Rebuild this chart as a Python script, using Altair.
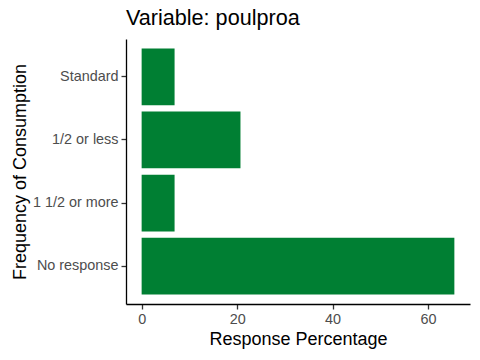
import altair as alt
import pandas as pd

categories = ["Standard", "1/2 or less", "1 1/2 or more", "No response"]
percentages = [6.9, 20.7, 6.9, 65.5]
x_ticks = [0, 20, 40, 60]

df = pd.DataFrame({"category": categories, "pct": percentages})

lo = -0.05 * max(percentages)
hi = max(percentages) * 1.05

chart = (
    alt.Chart(df)
    .mark_bar(color="#007F33")
    .encode(
        x=alt.X(
            "pct:Q",
            title="Response Percentage",
            scale=alt.Scale(domain=[lo, hi], nice=False, zero=False),
            axis=alt.Axis(values=x_ticks, grid=False, tickSize=5, labelPadding=3,
                          titlePadding=5),
        ),
        x2=alt.datum(0),
        y=alt.Y(
            "category:N",
            sort=categories,
            title="Frequency of Consumption",
            scale=alt.Scale(paddingInner=0.1, paddingOuter=0.15),
            axis=alt.Axis(grid=False, tickSize=5, labelPadding=3, titlePadding=3),
        ),
    )
    .properties(
        width=344,
        height=265,
        autosize=alt.AutoSizeParams(type="none"),
        padding={"left": 126, "top": 39, "right": 10, "bottom": 56},
        background="white",
        title=alt.TitleParams(
            "Variable: poulproa",
            anchor="start",
            frame="group",
            fontSize=21.6,
            fontWeight="normal",
            color="black",
            font="Liberation Sans",
            offset=9,
        ),
    )
    .configure_view(stroke=None)
    .configure_axis(
        domainColor="black",
        domainWidth=1.3,
        tickColor="#333333",
        tickWidth=1.3,
        labelColor="#4D4D4D",
        labelFontSize=14.4,
        labelFont="Liberation Sans",
        titleFont="Liberation Sans",
        titleFontSize=18,
        titleFontWeight="normal",
        titleColor="black",
    )
)

chart.save("out.html", embed_options={"renderer": "svg", "actions": False})
